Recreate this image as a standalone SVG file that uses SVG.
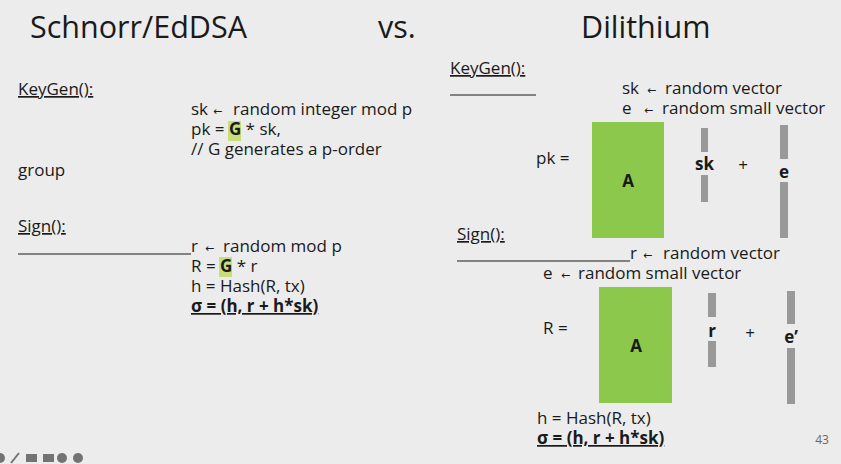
<svg xmlns="http://www.w3.org/2000/svg" width="841" height="464" viewBox="0 0 841 464">
<style>
text{font-family:"Open Sans","Noto Sans","DejaVu Sans",sans-serif;fill:#1a1a1a}
.t{font-size:30.5px}
.b{font-size:17px}
.u{text-decoration:underline}
.bold{font-weight:bold}
.arr{font-size:11px}
.hl{fill:#c9de7a}
.mat{fill:#8cc84b}
.vec{fill:#999}
.ln{stroke:#1a1a1a;stroke-width:1.2}
.ic{fill:#555}
</style>
<rect width="841" height="464" fill="#ececec"/>
<g id="titles">
<text class="t" x="30" y="38">Schnorr/EdDSA</text>
<text class="t" x="378" y="38">vs.</text>
<text class="t" x="581" y="38">Dilithium</text>
</g>
<g id="schnorr-keygen">
<text class="b u" x="18" y="95">KeyGen():</text>
<text class="b" x="191" y="115">sk<tspan class="arr" x="213">←</tspan><tspan x="233">random integer mod p</tspan></text>
<rect class="hl" x="228" y="121" width="13" height="20"/>
<text class="b" x="191" y="135">pk = <tspan class="bold">G</tspan> * sk,</text>
<text class="b" x="191" y="155">// G generates a p-order</text>
<text class="b" x="18" y="176">group</text>
</g>
<g id="schnorr-sign">
<text class="b u" x="18" y="232">Sign():</text>
<line class="ln" x1="18" y1="254" x2="191" y2="254"/>
<text class="b" x="191" y="252">r<tspan class="arr" x="205">←</tspan><tspan x="223">random mod p</tspan></text>
<rect class="hl" x="219" y="257" width="13" height="20"/>
<text class="b" x="191" y="272">R = <tspan class="bold">G</tspan> * r</text>
<text class="b" x="191" y="292">h = Hash(R, tx)</text>
<text class="b u bold" x="191" y="312">σ = (h, r + h*sk)</text>
</g>
<g id="dilithium-keygen">
<text class="b u" x="450" y="74">KeyGen():</text>
<line class="ln" x1="450" y1="95" x2="536" y2="95"/>
<text class="b" x="622" y="94">sk<tspan class="arr" x="647">←</tspan><tspan x="665">random vector</tspan></text>
<text class="b" x="622" y="114">e<tspan class="arr" x="644">←</tspan><tspan x="662">random small vector</tspan></text>
<text class="b" x="536" y="164">pk =</text>
<rect class="mat" x="592" y="122" width="72" height="116"/>
<text class="b bold" x="628" y="187" text-anchor="middle">A</text>
<rect class="vec" x="701" y="128" width="7" height="24"/>
<rect class="vec" x="701" y="175" width="7" height="27"/>
<text class="b bold" x="704.5" y="170" text-anchor="middle">sk</text>
<text class="b" x="743" y="171" text-anchor="middle" font-size="13">+</text>
<rect class="vec" x="780" y="125" width="8" height="34"/>
<rect class="vec" x="780" y="182" width="8" height="56"/>
<text class="b bold" x="784" y="178" text-anchor="middle">e</text>
</g>
<g id="dilithium-sign">
<text class="b u" x="457" y="240">Sign():</text>
<line class="ln" x1="457" y1="261" x2="630" y2="261"/>
<text class="b" x="630" y="259">r<tspan class="arr" x="643">←</tspan><tspan x="663">random vector</tspan></text>
<text class="b" x="543" y="279">e<tspan class="arr" x="561">←</tspan><tspan x="578">random small vector</tspan></text>
<text class="b" x="543" y="334">R =</text>
<rect class="mat" x="599" y="287" width="73" height="116"/>
<text class="b bold" x="636" y="352" text-anchor="middle">A</text>
<rect class="vec" x="708" y="293" width="8" height="24"/>
<rect class="vec" x="708" y="341" width="8" height="26"/>
<text class="b bold" x="712" y="337" text-anchor="middle">r</text>
<text class="b" x="750" y="339" text-anchor="middle" font-size="13">+</text>
<rect class="vec" x="787" y="291" width="8" height="33"/>
<rect class="vec" x="787" y="348" width="8" height="56"/>
<text class="b bold" x="791" y="343" text-anchor="middle">e’</text>
<text class="b" x="537" y="424">h = Hash(R, tx)</text>
<text class="b u bold" x="537" y="444">σ = (h, r + h*sk)</text>
</g>
<g id="page-number">
<text x="822" y="444" font-size="12" text-anchor="middle" style="fill:#666">43</text>
</g>
<g id="toolbar" opacity="0.8">
<circle class="ic" cx="0" cy="458" r="5"/>
<line x1="11" y1="463" x2="19" y2="453" stroke="#555" stroke-width="2"/>
<rect class="ic" x="26" y="454" width="11" height="8"/>
<rect class="ic" x="43" y="454" width="11" height="8"/>
<circle class="ic" cx="62" cy="458" r="5"/>
<circle class="ic" cx="78" cy="458" r="5"/>
</g>
</svg>
